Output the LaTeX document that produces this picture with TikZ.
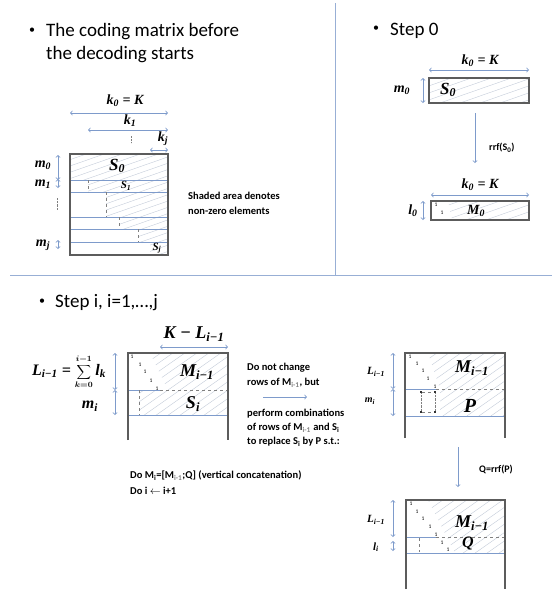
\documentclass[tikz,border=0pt]{standalone}
\usepackage{fontspec}
\setmainfont{Carlito}
\newfontfamily\labfont{Liberation Serif}
\usetikzlibrary{positioning}

\definecolor{lineblue}{HTML}{7E9BCB}
\definecolor{framegray}{HTML}{5C5C5C}
\definecolor{hatchgray}{HTML}{C3CBD8}

\tikzstyle{arrow} = [lineblue,thick,->,>=to]
\tikzstyle{dimarrow} = [lineblue,thick,<->,>=to]
\tikzstyle{divider} = [lineblue!80,line width=1pt]
\tikzstyle{frame} = [framegray,line width=1.4pt]
\tikzstyle{rowline} = [lineblue,line width=1pt]
\tikzstyle{dashline} = [gray,dashed,thin]
\tikzstyle{dotline} = [gray,densely dotted,thin]
\tikzstyle{hatch} = [hatchgray,thin]
\tikzstyle{title} = [anchor=west,inner sep=0pt,align=left,font=\fontsize{19}{23}\selectfont]
\tikzstyle{bullet} = [inner sep=0pt,font=\fontsize{12}{12}\selectfont]
\tikzstyle{note} = [anchor=west,inner sep=0pt,align=left,font=\bfseries\fontsize{10.5}{15}\selectfont]
\tikzstyle{lab} = [inner sep=0pt,font=\fontsize{14}{16}\labfont\bfseries\itshape]
\tikzstyle{biglab} = [inner sep=0pt,font=\fontsize{18}{20}\labfont\bfseries\itshape]
\tikzstyle{smalllab} = [inner sep=0pt,font=\fontsize{11}{13}\labfont\bfseries\itshape]
\tikzstyle{one} = [inner sep=0pt,font=\fontsize{5.5}{6}\selectfont]
\tikzstyle{sq} = [fill=black!80,minimum size=2.5pt,inner sep=0pt]

\newcommand{\hatchfill}[3]{%
  \begin{scope}
    \clip #1;
    \foreach \n in {0,...,200}
      \draw[hatch] ({-1800+\n*#2},600) -- ++(2000,{-2000*#3});
  \end{scope}}

\begin{document}
\begin{tikzpicture}[x=1pt,y=-1pt]
\useasboundingbox (0,0) rectangle (552,590);

\draw[divider] (335,3) -- (335,275);
\draw[divider] (10,275) -- (552,275);

\node[bullet] (b1) at (32,31) {\textbullet};
\node[title] (t1) at (46,43.5) {The coding matrix before\\the decoding starts};

\hatchfill{(70,154) -- (168,154) -- (168,255) -- (150,255) -- (150,242) -- (138,242) -- (138,229) -- (119,229) -- (119,217) -- (106,217) -- (106,192) -- (88,192) -- (88,180) -- (70,180) -- cycle}{18}{0.35}
\foreach \y in {180,192,217,229,242}
  \draw[rowline] (70,\y) -- (168,\y);
\draw[dashline] (88,180) -- (88,192);
\draw[dashline] (106,192) -- (106,217);
\draw[dashline] (119,217) -- (119,229);
\draw[dashline] (138,229) -- (138,242);
\draw[frame] (70,154) rectangle (168,255);

\node[lab,font=\fontsize{17}{19}\labfont\bfseries\itshape] (s0) at (117,166) {S\textsubscript{0}};
\node[smalllab] (s1) at (126,186) {S\textsubscript{1}};
\node[smalllab] (sj) at (157,248) {S\textsubscript{j}};

\node[lab] (k0) at (125,101) {k\textsubscript{0} = K};
\node[lab] (k1) at (130,121) {k\textsubscript{1}};
\node[lab] (kj) at (163,139) {k\textsubscript{j}};
\coordinate (k0a) at (70,113);
\coordinate (k0b) at (168,113);
\coordinate (k1a) at (88,130);
\coordinate (k1b) at (168,130);
\coordinate (kja) at (150,150);
\coordinate (kjb) at (168,150);
\coordinate (kd1) at (131,136);
\coordinate (kd2) at (131,143);
\draw[dimarrow] (k0a) -- (k0b);
\draw[dimarrow] (k1a) -- (k1b);
\draw[dimarrow] (kja) -- (kjb);
\draw[dotline] (kd1) -- (kd2);

\node[lab] (m0) at (43,165) {m\textsubscript{0}};
\node[lab] (m1) at (43,184) {m\textsubscript{1}};
\node[lab] (mj) at (43,245) {m\textsubscript{j}};
\coordinate (m0a) at (58,155);
\coordinate (m0b) at (58,180);
\coordinate (m1a) at (58,179);
\coordinate (m1b) at (58,188);
\coordinate (mja) at (58,240);
\coordinate (mjb) at (58,249);
\coordinate (md1) at (57,198);
\coordinate (md2) at (57,210);
\draw[dimarrow] (m0a) -- (m0b);
\draw[dimarrow] (m1a) -- (m1b);
\draw[dimarrow] (mja) -- (mjb);
\draw[dotline] (md1) -- (md2);

\node[note] (shade) at (188,203) {Shaded area denotes\\non-zero elements};

\node[bullet] (b2) at (376,29) {\textbullet};
\node[title] (t2) at (390,31) {Step 0};

\hatchfill{(429,78) rectangle (529,103)}{20}{0.35}
\draw[frame] (429,78) rectangle (529,103);
\node[lab,font=\fontsize{17}{19}\labfont\bfseries\itshape] (s0b) at (448,90) {S\textsubscript{0}};
\node[lab] (k0c) at (480,61) {k\textsubscript{0} = K};
\node[lab] (m0c) at (402,90) {m\textsubscript{0}};
\coordinate (k0ca) at (429,70);
\coordinate (k0cb) at (529,70);
\coordinate (m0ca) at (423,78);
\coordinate (m0cb) at (423,103);
\draw[dimarrow] (k0ca) -- (k0cb);
\draw[dimarrow] (m0ca) -- (m0cb);

\coordinate (d0a) at (475,113);
\coordinate (d0b) at (475,163);
\draw[arrow] (d0a) -- (d0b);
\node[note,font=\bfseries\fontsize{10}{12}\selectfont] (rrf0) at (489,148) {rrf(S\textsubscript{0})};

\hatchfill{(448,201) -- (529,201) -- (529,220) -- (452,220) -- cycle}{20}{0.35}
\draw[frame] (431,201) rectangle (529,220);
\node[lab] (mm0) at (476,211) {M\textsubscript{0}};
\node[one] (z1) at (436,205) {1};
\node[one] (z2) at (442,213) {1};
\node[lab] (k0d) at (480,185) {k\textsubscript{0} = K};
\node[lab] (l0) at (413,211) {l\textsubscript{0}};
\coordinate (k0da) at (431,195);
\coordinate (k0db) at (529,195);
\coordinate (l0a) at (423,201);
\coordinate (l0b) at (423,220);
\draw[dimarrow] (k0da) -- (k0db);
\draw[dimarrow] (l0a) -- (l0b);

\node[bullet] (b3) at (42,302) {\textbullet};
\node[title] (t3) at (55,303) {Step i, i=1,…,j};

\hatchfill{(150,353) -- (228,353) -- (228,415) -- (139,415) -- (139,390) -- (168,390) -- cycle}{12}{0.7}
\draw[rowline] (128,390) -- (160,390);
\draw[dashline] (160,390) -- (228,390);
\draw[rowline] (128,415) -- (228,415);
\draw[dashline] (139,390) -- (139,415);
\draw[frame] (128,440) -- (128,353) -- (228,353) -- (228,440);
\foreach \p [count=\i] in {(132,357),(140,365),(145,372),(151,381),(157,389)}
  \node[one] (a\i) at \p {1};
\node[biglab] (mi1) at (197,372) {M\textsubscript{i−1}};
\node[biglab] (si) at (193,404) {S\textsubscript{i}};
\node[biglab] (kl) at (194,334) {K − L\textsubscript{i−1}};
\coordinate (kla) at (160,347);
\coordinate (klb) at (228,347);
\draw[dimarrow] (kla) -- (klb);
\node[lab,font=\fontsize{16}{18}\labfont\bfseries\itshape] (lsum) at (69,372) {L\textsubscript{i−1} = {\fontsize{11}{13}\selectfont\boldmath$\displaystyle\sum_{k=0}^{i-1}$}\,l\textsubscript{k}};
\node[lab,font=\fontsize{16}{18}\labfont\bfseries\itshape] (mi) at (90,406) {m\textsubscript{i}};
\coordinate (la) at (115,353);
\coordinate (lb) at (115,390);
\coordinate (lc) at (115,415);
\draw[dimarrow] (la) -- (lb);
\draw[dimarrow] (lb) -- (lc);

\node[note] (keep) at (247,375) {Do not change\\rows of M\textsubscript{\color{gray}i-1}, but};
\coordinate (pa) at (263,397);
\coordinate (pb) at (307,397);
\draw[arrow] (pa) -- (pb);
\node[note,font=\bfseries\fontsize{10.5}{14}\selectfont] (comb) at (247,428) {perform combinations\\of rows of M\textsubscript{\color{gray}i-1} and S\textsubscript{i}\\to replace S\textsubscript{i} by P s.t.:};
\node[note,font=\bfseries\fontsize{10.5}{16}\selectfont] (conc) at (130,483) {Do M\textsubscript{i}=[M\textsubscript{\color{gray}i-1};Q] (vertical concatenation)\\Do i $\leftarrow$ i+1};

\hatchfill{(428,353) -- (505,353) -- (505,416) -- (440,416) -- (440,389) -- cycle}{12}{0.7}
\draw[rowline] (405,389) -- (436,389);
\draw[dashline] (436,389) -- (505,389);
\draw[rowline] (405,416) -- (505,416);
\draw[frame] (405,438) -- (405,353) -- (505,353) -- (505,438);
\foreach \p [count=\i] in {(410,357),(417,364),(423,371),(428,379),(435,387)}
  \node[one] (c\i) at \p {1};
\node[sq] (q1) at (421,392) {};
\node[sq] (q2) at (435,392) {};
\node[sq] (q3) at (421,412) {};
\node[sq] (q4) at (435,412) {};
\draw[dashline] (q1) -- (q2);
\draw[dashline] (q3) -- (q4);
\draw[dotline] (q1) -- (q3);
\draw[dotline] (q2) -- (q4);
\node[biglab] (mi2) at (472,368) {M\textsubscript{i−1}};
\node[biglab,font=\fontsize{20}{22}\labfont\bfseries\itshape] (pp) at (470,406) {P};
\node[smalllab] (li2) at (376,372) {L\textsubscript{i−1}};
\node[smalllab,font=\fontsize{10}{11}\labfont\bfseries\itshape] (mi3) at (370,401) {m\textsubscript{i}};
\coordinate (ra) at (393,353);
\coordinate (rb) at (393,389);
\coordinate (rc) at (393,416);
\draw[dimarrow] (ra) -- (rb);
\draw[dimarrow] (rb) -- (rc);

\coordinate (dqa) at (458,447);
\coordinate (dqb) at (458,487);
\draw[arrow] (dqa) -- (dqb);
\node[note,font=\bfseries\fontsize{10}{12}\selectfont] (rrfp) at (479,470) {Q=rrf(P)};

\hatchfill{(428,500) -- (505,500) -- (505,553) -- (455,553) -- cycle}{12}{0.7}
\draw[rowline] (406,537) -- (436,537);
\draw[dashline] (436,537) -- (505,537);
\draw[rowline] (406,553) -- (505,553);
\draw[dashline] (419,538) -- (419,552);
\draw[frame] (406,589) -- (406,500) -- (505,500) -- (505,589);
\foreach \p [count=\i] in {(411,504),(417,512),(423,519),(430,527),(436,535),(442,543),(448,550)}
  \node[one] (e\i) at \p {1};
\node[biglab] (mi4) at (472,523) {M\textsubscript{i−1}};
\node[lab,font=\fontsize{16}{18}\labfont\bfseries\itshape] (qq) at (468,543) {Q};
\node[smalllab] (li4) at (376,520) {L\textsubscript{i−1}};
\node[smalllab] (li5) at (376,547) {l\textsubscript{i}};
\coordinate (sa) at (393,500);
\coordinate (sb) at (393,537);
\coordinate (sc) at (393,541);
\coordinate (sd) at (393,551);
\draw[dimarrow] (sa) -- (sb);
\draw[dimarrow] (sc) -- (sd);

\end{tikzpicture}
\end{document}
